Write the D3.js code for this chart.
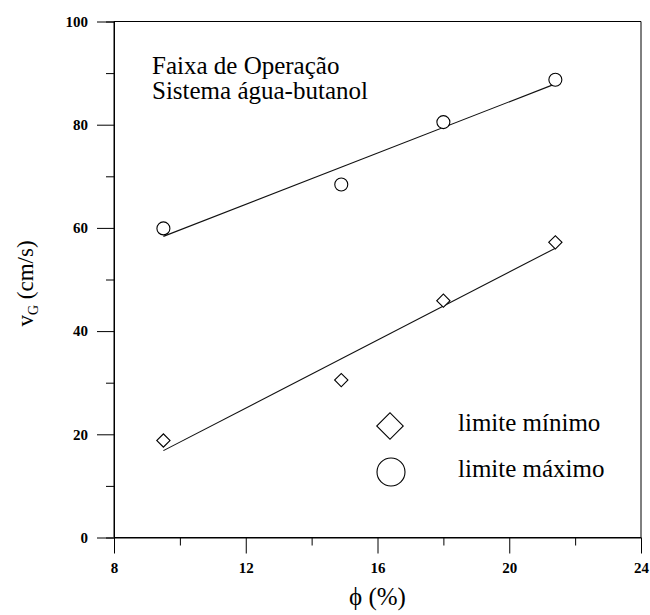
<!DOCTYPE html>
<html>
<head>
<meta charset="utf-8">
<script src="https://cdn.jsdelivr.net/npm/d3@7"></script>
<style>
  body { margin: 0; background: #fff; }
  svg { display: block; }
</style>
</head>
<body>
<svg id="chart" width="650" height="615"></svg>
<script>
// Operating range, water-butanol system
const phiMin = [9.5, 14.9, 18.0, 21.4];
const vgMin  = [18.8, 30.5, 45.9, 57.2];
const phiMax = [9.5, 14.9, 18.0, 21.4];
const vgMax  = [59.9, 68.4, 80.5, 88.7];

const xTicks = [8, 12, 16, 20, 24];
const xMinorTicks = [10, 14, 18, 22];
const yTicks = [0, 20, 40, 60, 80, 100];
const yMinorTicks = [10, 30, 50, 70, 90];

const titleLines = ["Faixa de Operação", "Sistema água-butanol"];
const legendLabels = ["limite mínimo", "limite máximo"];

const SERIF = '"Liberation Serif", "Times New Roman", Times, serif';
const W = 650, H = 615;
const margin = { left: 114, right: 9, top: 21.5, bottom: 77.5 };
const svg = d3.select("#chart");

const x = d3.scaleLinear().domain([8, 24]).range([margin.left, W - margin.right]);
const y = d3.scaleLinear().domain([0, 100]).range([H - margin.bottom, margin.top]);

// frame: top and right edges
svg.append("path")
  .attr("d", `M${x(8)},${y(100)}H${x(24)}V${y(0)}`)
  .attr("fill", "none").attr("stroke", "#000").attr("stroke-width", 1);

// bottom axis with major + minor ticks
const gx = svg.append("g").attr("transform", `translate(0,${y(0)})`);
gx.call(d3.axisBottom(x).tickValues(xTicks).tickSize(16).tickPadding(9).tickFormat(d3.format("d")));
gx.append("g").call(d3.axisBottom(x).tickValues(xMinorTicks).tickSize(8).tickFormat(""));
gx.select(".domain").attr("d", `M${x(8)},0H${x(24)}`).attr("stroke", "#000");

// left axis with major + minor ticks
const gy = svg.append("g").attr("transform", `translate(${x(8)},0)`);
gy.call(d3.axisLeft(y).tickValues(yTicks).tickSize(17).tickPadding(9).tickFormat(d3.format("d")));
gy.append("g").call(d3.axisLeft(y).tickValues(yMinorTicks).tickSize(8).tickFormat(""));
gy.select(".domain").attr("d", `M0,${y(0)}V${y(100)}`).attr("stroke", "#000");

svg.selectAll(".tick text")
  .attr("font-size", 15).attr("font-weight", "bold")
  .style("font-family", SERIF).attr("fill", "#000");
svg.selectAll(".tick line").attr("stroke", "#000");

// least-squares fit line over the data range
function fitLine(xs, ys) {
  const mx = d3.mean(xs), my = d3.mean(ys);
  const sxy = d3.sum(xs, (v, i) => (v - mx) * (ys[i] - my));
  const sxx = d3.sum(xs, v => (v - mx) ** 2);
  const b = sxy / sxx, a = my - b * mx;
  const x0 = d3.min(xs), x1 = d3.max(xs);
  return [[x0, a + b * x0], [x1, a + b * x1]];
}
const line = d3.line().x(d => x(d[0])).y(d => y(d[1]));

[[phiMin, vgMin], [phiMax, vgMax]].forEach(([xs, ys]) => {
  svg.append("path").attr("d", line(fitLine(xs, ys)))
    .attr("fill", "none").attr("stroke", "#111").attr("stroke-width", 1.1);
});

// diamonds: minimum limit
svg.append("g").selectAll("path").data(phiMin).join("path")
  .attr("transform", (d, i) => `translate(${x(d)},${y(vgMin[i])}) rotate(45)`)
  .attr("d", d3.symbol().type(d3.symbolSquare).size(88)())
  .attr("fill", "#fff").attr("stroke", "#000").attr("stroke-width", 1.1);

// circles: maximum limit
svg.append("g").selectAll("circle").data(phiMax).join("circle")
  .attr("cx", d => x(d)).attr("cy", (d, i) => y(vgMax[i])).attr("r", 6.5)
  .attr("fill", "#fff").attr("stroke", "#000").attr("stroke-width", 1.1);

// title block
svg.append("g").selectAll("text").data(titleLines).join("text")
  .attr("x", 152).attr("y", (d, i) => 74 + i * 25)
  .style("font-family", SERIF).attr("font-size", 25).text(d => d);

// legend
const lg = svg.append("g");
lg.append("path")
  .attr("transform", "translate(390,426) rotate(45)")
  .attr("d", d3.symbol().type(d3.symbolSquare).size(350)())
  .attr("fill", "#fff").attr("stroke", "#000").attr("stroke-width", 1.1);
lg.append("circle").attr("cx", 391).attr("cy", 472).attr("r", 14)
  .attr("fill", "#fff").attr("stroke", "#000").attr("stroke-width", 1.1);
lg.selectAll("text").data(legendLabels).join("text")
  .attr("x", 458).attr("y", (d, i) => 431 + i * 46)
  .style("font-family", SERIF).attr("font-size", 25).text(d => d);

// axis titles
svg.append("text")
  .attr("x", (x(8) + x(24)) / 2).attr("y", 605)
  .attr("text-anchor", "middle").style("font-family", SERIF).attr("font-size", 25)
  .text("ϕ (%)");

const yl = svg.append("text")
  .attr("transform", `translate(33,${(y(0) + y(100)) / 2 + 4}) rotate(-90)`)
  .attr("text-anchor", "middle").style("font-family", SERIF).attr("font-size", 23);
yl.append("tspan").text("v");
yl.append("tspan").attr("font-size", 14).attr("dy", 5).text("G");
yl.append("tspan").attr("dy", -5).text(" (cm/s)");
</script>
</body>
</html>
